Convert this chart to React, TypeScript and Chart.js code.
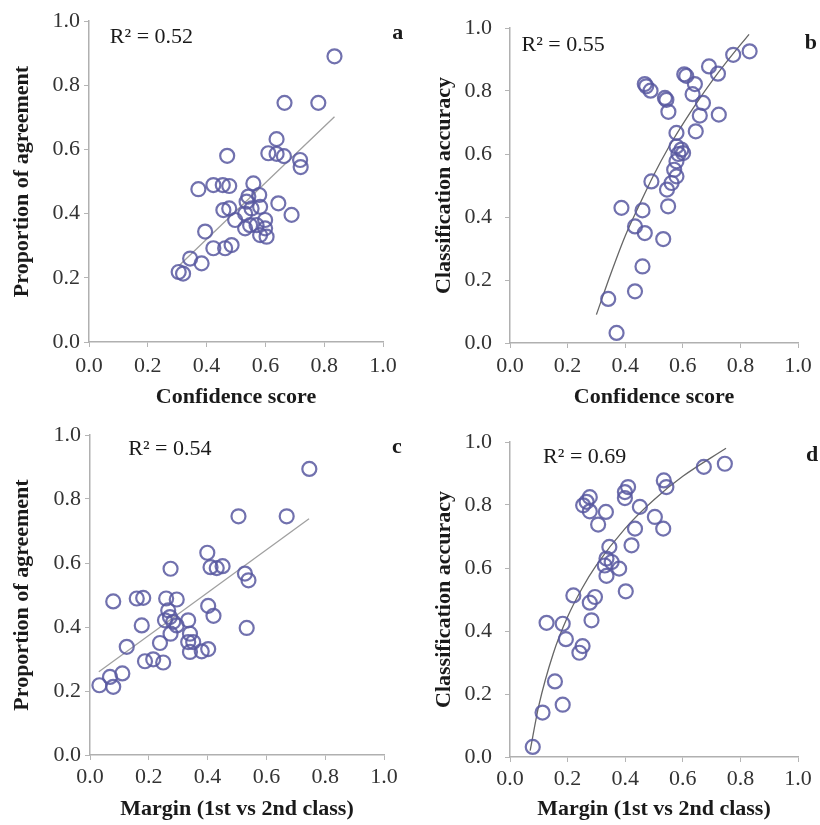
import React, { useEffect, useRef } from "react";
import { Chart, registerables } from "chart.js";

Chart.register(...registerables);

// ---------- Data ----------
// Panel a: confidence score vs proportion of agreement
const confA = [0.835, 0.665, 0.78, 0.638, 0.61, 0.638, 0.663, 0.718, 0.72, 0.47, 0.372, 0.423, 0.455, 0.477, 0.559, 0.542, 0.579, 0.536, 0.582, 0.553, 0.531, 0.644, 0.689, 0.457, 0.477, 0.497, 0.548, 0.57, 0.599, 0.599, 0.582, 0.604, 0.531, 0.395, 0.423, 0.463, 0.485, 0.344, 0.383, 0.305, 0.32];
const agreeA = [0.89, 0.745, 0.745, 0.632, 0.588, 0.586, 0.579, 0.567, 0.545, 0.58, 0.476, 0.489, 0.489, 0.486, 0.494, 0.453, 0.458, 0.437, 0.421, 0.416, 0.4, 0.432, 0.396, 0.411, 0.416, 0.38, 0.364, 0.364, 0.38, 0.354, 0.333, 0.328, 0.354, 0.344, 0.292, 0.292, 0.302, 0.26, 0.245, 0.218, 0.213];
const trendAX = [0.305, 0.835];
const trendAY = [0.237, 0.702];

// Panel b: confidence score vs classification accuracy
const confB = [0.832, 0.775, 0.691, 0.722, 0.605, 0.612, 0.642, 0.634, 0.67, 0.659, 0.725, 0.645, 0.468, 0.473, 0.488, 0.538, 0.543, 0.55, 0.578, 0.578, 0.595, 0.601, 0.585, 0.578, 0.57, 0.578, 0.561, 0.545, 0.491, 0.549, 0.387, 0.46, 0.434, 0.468, 0.532, 0.46, 0.434, 0.341, 0.37];
const accB = [0.926, 0.915, 0.878, 0.855, 0.853, 0.848, 0.822, 0.79, 0.762, 0.722, 0.725, 0.672, 0.822, 0.815, 0.801, 0.778, 0.772, 0.734, 0.667, 0.624, 0.614, 0.603, 0.6, 0.577, 0.55, 0.529, 0.508, 0.487, 0.513, 0.434, 0.429, 0.421, 0.37, 0.349, 0.33, 0.243, 0.164, 0.14, 0.032];
const trendBX = [0.3, 0.35, 0.4, 0.45, 0.5, 0.55, 0.6, 0.65, 0.7, 0.75, 0.83];
const trendBY = [0.09, 0.22, 0.34, 0.44, 0.535, 0.62, 0.695, 0.765, 0.83, 0.89, 0.98];

// Panel c: margin vs proportion of agreement
const marginC = [0.746, 0.505, 0.669, 0.399, 0.41, 0.431, 0.451, 0.527, 0.539, 0.274, 0.079, 0.159, 0.181, 0.259, 0.295, 0.402, 0.42, 0.533, 0.176, 0.266, 0.272, 0.283, 0.295, 0.255, 0.274, 0.334, 0.34, 0.351, 0.334, 0.34, 0.125, 0.238, 0.187, 0.215, 0.249, 0.38, 0.402, 0.11, 0.068, 0.079, 0.032];
const agreeC = [0.894, 0.746, 0.746, 0.632, 0.587, 0.584, 0.59, 0.567, 0.546, 0.582, 0.48, 0.489, 0.491, 0.489, 0.486, 0.466, 0.435, 0.397, 0.405, 0.452, 0.431, 0.416, 0.405, 0.421, 0.379, 0.421, 0.379, 0.353, 0.353, 0.322, 0.338, 0.35, 0.293, 0.299, 0.289, 0.324, 0.331, 0.255, 0.244, 0.213, 0.218];
const trendCX = [0.03, 0.745];
const trendCY = [0.26, 0.738];

// Panel d: margin vs classification accuracy
const marginD = [0.746, 0.673, 0.534, 0.543, 0.41, 0.399, 0.399, 0.451, 0.503, 0.532, 0.434, 0.422, 0.277, 0.266, 0.254, 0.277, 0.333, 0.306, 0.345, 0.335, 0.353, 0.329, 0.379, 0.335, 0.402, 0.22, 0.295, 0.277, 0.283, 0.127, 0.183, 0.194, 0.252, 0.241, 0.156, 0.183, 0.113, 0.079];
const accD = [0.931, 0.921, 0.878, 0.857, 0.857, 0.841, 0.822, 0.794, 0.762, 0.725, 0.725, 0.672, 0.825, 0.81, 0.799, 0.78, 0.778, 0.738, 0.667, 0.63, 0.619, 0.608, 0.598, 0.575, 0.526, 0.513, 0.508, 0.49, 0.434, 0.426, 0.423, 0.374, 0.352, 0.331, 0.24, 0.166, 0.141, 0.032];
const trendDX = [0.07, 0.1, 0.15, 0.2, 0.25, 0.3, 0.4, 0.5, 0.6, 0.75];
const trendDY = [0.02, 0.163, 0.328, 0.445, 0.535, 0.609, 0.726, 0.817, 0.891, 0.98];

const axisTicks = [0, 0.2, 0.4, 0.6, 0.8, 1.0];

const FONT = '"Liberation Serif", "Times New Roman", serif';

type PanelCfg = {
  left: number;
  top: number;
  w: number;
  h: number;
  areaLeft: number;
  areaRight: number;
  areaTop: number;
  areaBottom: number;
  yTitlePad: number;
  yTickPad: number;
  xTickPad: number;
  xTitlePad: number;
  xs: number[];
  ys: number[];
  tx: number[];
  ty: number[];
  lineColor: string;
  xTitle: string;
  yTitle: string;
  r2: string;
  r2x: number;
  r2y: number;
  letter: string;
  lx: number;
  ly: number;
};

const panels: PanelCfg[] = [
  {
    left: 0, top: 0, w: 410, h: 412,
    areaLeft: 89, areaRight: 383, areaTop: 21, areaBottom: 342,
    yTitlePad: 9, yTickPad: 4, xTickPad: 6, xTitlePad: 1,
    xs: confA, ys: agreeA, tx: trendAX, ty: trendAY, lineColor: "#a0a0a0",
    xTitle: "Confidence score", yTitle: "Proportion of agreement",
    r2: "R² = 0.52", r2x: 0.071, r2y: 0.95, letter: "a", lx: 1.05, ly: 0.963,
  },
  {
    left: 410, top: 0, w: 410, h: 412,
    areaLeft: 100, areaRight: 388, areaTop: 28, areaBottom: 343,
    yTitlePad: 21, yTickPad: 13, xTickPad: 5, xTitlePad: 1,
    xs: confB, ys: accB, tx: trendBX, ty: trendBY, lineColor: "#666666",
    xTitle: "Confidence score", yTitle: "Classification accuracy",
    r2: "R² = 0.55", r2x: 0.04, r2y: 0.945, letter: "b", lx: 1.045, ly: 0.952,
  },
  {
    left: 0, top: 412, w: 410, h: 413,
    areaLeft: 90, areaRight: 384, areaTop: 23, areaBottom: 343,
    yTitlePad: 9, yTickPad: 4, xTickPad: 4, xTitlePad: 2,
    xs: marginC, ys: agreeC, tx: trendCX, ty: trendCY, lineColor: "#a0a0a0",
    xTitle: "Margin (1st vs 2nd class)", yTitle: "Proportion of agreement",
    r2: "R² = 0.54", r2x: 0.13, r2y: 0.956, letter: "c", lx: 1.044, ly: 0.962,
  },
  {
    left: 410, top: 412, w: 410, h: 413,
    areaLeft: 100, areaRight: 388, areaTop: 30, areaBottom: 345,
    yTitlePad: 21, yTickPad: 13, xTickPad: 4, xTitlePad: 2,
    xs: marginD, ys: accD, tx: trendDX, ty: trendDY, lineColor: "#666666",
    xTitle: "Margin (1st vs 2nd class)", yTitle: "Classification accuracy",
    r2: "R² = 0.69", r2x: 0.115, r2y: 0.952, letter: "d", lx: 1.049, ly: 0.959,
  },
];

function Panel({ cfg }: { cfg: PanelCfg }) {
  const ref = useRef<HTMLCanvasElement>(null);

  useEffect(() => {
    const canvas = ref.current;
    if (!canvas) return;

    const annot = {
      id: "annot",
      afterDraw(chart: any) {
        const { ctx, scales } = chart;
        const x = scales.x;
        const y = scales.y;
        ctx.save();
        ctx.fillStyle = "#1a1a1a";
        ctx.textBaseline = "middle";
        ctx.font = `22px ${FONT}`;
        ctx.textAlign = "left";
        ctx.fillText(cfg.r2, x.getPixelForValue(cfg.r2x), y.getPixelForValue(cfg.r2y));
        ctx.font = `bold 22px ${FONT}`;
        ctx.textAlign = "center";
        ctx.fillText(cfg.letter, x.getPixelForValue(cfg.lx), y.getPixelForValue(cfg.ly));
        ctx.restore();
      },
    };

    const points = cfg.xs.map((v, i) => ({ x: v, y: cfg.ys[i] }));
    const trend = cfg.tx.map((v, i) => ({ x: v, y: cfg.ty[i] }));

    const chart = new Chart(canvas, {
      type: "scatter",
      data: {
        datasets: [
          {
            type: "line",
            data: trend,
            borderColor: cfg.lineColor,
            borderWidth: 1.3,
            pointRadius: 0,
            fill: false,
            cubicInterpolationMode: "monotone",
            order: 2,
          } as any,
          {
            type: "scatter",
            data: points,
            pointRadius: 7,
            pointHoverRadius: 7,
            borderWidth: 2.2,
            borderColor: "rgba(88, 88, 160, 0.85)",
            backgroundColor: "rgba(255,255,255,0)",
            order: 1,
          } as any,
        ],
      },
      options: {
        responsive: false,
        animation: false,
        events: [],
        layout: {
          padding: {
            left: 0,
            top: cfg.areaTop,
            right: cfg.w - cfg.areaRight,
            bottom: 0,
          },
        },
        plugins: {
          legend: { display: false },
          tooltip: { enabled: false },
        },
        scales: {
          x: {
            type: "linear",
            min: 0,
            max: 1,
            afterFit: (scale: any) => {
              scale.height = cfg.h - cfg.areaBottom;
            },
            afterBuildTicks: (scale: any) => {
              scale.ticks = axisTicks.map((v) => ({ value: v }));
            },
            ticks: {
              padding: cfg.xTickPad,
              color: "#333",
              font: { family: FONT, size: 22 },
              callback: (v: any) => Number(v).toFixed(1),
              maxRotation: 0,
            },
            grid: {
              display: true,
              drawOnChartArea: false,
              drawTicks: true,
              tickLength: 5,
              color: "#b5b5b5",
            },
            border: { display: true, color: "#b0b0b0", width: 1.5 },
            title: {
              display: true,
              text: cfg.xTitle,
              color: "#1a1a1a",
              font: { family: FONT, size: 22, weight: "bold" },
              padding: { top: 0, bottom: cfg.xTitlePad },
            },
          },
          y: {
            type: "linear",
            min: 0,
            max: 1,
            afterFit: (scale: any) => {
              scale.width = cfg.areaLeft;
            },
            afterBuildTicks: (scale: any) => {
              scale.ticks = axisTicks.map((v) => ({ value: v }));
            },
            ticks: {
              padding: cfg.yTickPad,
              color: "#333",
              font: { family: FONT, size: 22 },
              callback: (v: any) => Number(v).toFixed(1),
            },
            grid: {
              display: true,
              drawOnChartArea: false,
              drawTicks: true,
              tickLength: 5,
              color: "#b5b5b5",
            },
            border: { display: true, color: "#b0b0b0", width: 1.5 },
            title: {
              display: true,
              text: cfg.yTitle,
              color: "#1a1a1a",
              font: { family: FONT, size: 22, weight: "bold" },
              padding: { top: cfg.yTitlePad, bottom: 0 },
            },
          },
        },
      },
      plugins: [annot],
    } as any);

    return () => chart.destroy();
  }, [cfg]);

  return (
    <canvas
      ref={ref}
      width={cfg.w}
      height={cfg.h}
      style={{
        position: "absolute",
        left: cfg.left,
        top: cfg.top,
        width: cfg.w,
        height: cfg.h,
      }}
    />
  );
}

export default function App() {
  return (
    <div
      style={{
        position: "fixed",
        left: 0,
        top: 0,
        width: 820,
        height: 825,
        background: "#ffffff",
        overflow: "hidden",
      }}
    >
      {panels.map((p, i) => (
        <Panel key={i} cfg={p} />
      ))}
    </div>
  );
}
